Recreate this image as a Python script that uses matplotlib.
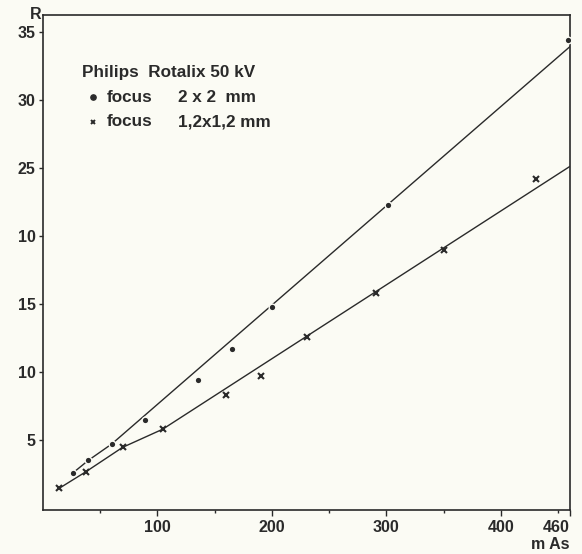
import matplotlib
matplotlib.use("Agg")
import matplotlib.pyplot as plt
import numpy as np

### Data

# focus 2 x 2 mm
mas_2x2 = [26.7, 39.8, 60.2, 89.6, 135.3, 165.5, 200.4, 301.1, 458.8]
r_2x2 = [2.6, 3.5, 4.7, 6.5, 9.4, 11.7, 14.8, 22.3, 34.4]
fit_2x2_x = [26.7, 39.8, 60.2, 460]
fit_2x2_y = [2.6, 3.5, 4.7, 33.9]

# focus 1,2 x 1,2 mm
mas_12 = [14.5, 37.8, 69.8, 104.7, 160.0, 190.3, 230.7, 290.6, 350.3, 430.3]
r_12 = [1.45, 2.67, 4.46, 5.79, 8.3, 9.73, 12.6, 15.8, 19.0, 24.2]
fit_12_x = [14.5, 37.8, 69.8, 104.7, 460]
fit_12_y = [1.45, 2.67, 4.46, 5.79, 25.1]

y_ticks = [5, 10, 15, 20, 25, 30, 35]
y_labels = ["5", "10", "15", "10", "25", "30", "35"]  # as printed
x_ticks = [100, 200, 300, 400, 460]
x_minor = [50, 150, 250, 350, 450]

### Style
bg = "#fbfbf4"
ink = "#2a2a2a"
font = "Liberation Sans"
plt.rcParams["font.family"] = [font, "DejaVu Sans"]
tick_fs = 11.5
leg_fs = 12.3

fig = plt.figure(figsize=(5.82, 5.54), dpi=100, facecolor=bg)
ax = fig.add_axes([0.0734, 0.0794, 0.9052, 0.8935], facecolor=bg)

# lines first, markers on top with a light edge so the line looks broken
ax.plot(fit_2x2_x, fit_2x2_y, color=ink, lw=1.0, zorder=2)
ax.plot(fit_12_x, fit_12_y, color=ink, lw=1.0, zorder=2)
ax.plot(mas_2x2, r_2x2, ls="none", marker="o", ms=4.8, mfc=ink, mec=bg, mew=1.0, zorder=3)
ax.plot(mas_12, r_12, ls="none", marker="x", ms=4.0, mec=ink, mew=1.5, zorder=3)

ax.set_xlim(0, 460)
ax.set_ylim(-0.15, 36.25)

for s in ax.spines.values():
    s.set_color(ink)
    s.set_linewidth(1.2)

ax.set_yticks(y_ticks)
ax.set_yticklabels(y_labels)
ax.set_xticks(x_ticks)
ax.set_xticklabels([str(v) for v in x_ticks])
ax.set_xticks(x_minor, minor=True)
ax.tick_params(axis="both", which="major", direction="out", color=ink, width=1.0,
               labelsize=tick_fs, labelcolor=ink)
ax.tick_params(axis="y", length=3, pad=2)
ax.tick_params(axis="x", length=4, pad=3.5)
ax.tick_params(axis="x", which="minor", direction="out", length=2, width=1.0, color=ink)
ax.tick_params(axis="y", which="minor", left=False)
for lab in ax.get_xticklabels() + ax.get_yticklabels():
    lab.set_fontweight("bold")
ax.get_xticklabels()[-1].set_horizontalalignment("right")

# axis names
ax.text(-0.002, 1.002, "R", transform=ax.transAxes, ha="right", va="center",
        fontsize=tick_fs, fontweight="bold", color=ink)
ax.text(1.0, -0.069, "m As", transform=ax.transAxes, ha="right", va="center",
        fontsize=tick_fs, fontweight="bold", color=ink)

# legend block
ax.text(0.074, 0.883, "Philips  Rotalix 50 kV", transform=ax.transAxes, ha="left",
        va="center", fontsize=leg_fs, fontweight="bold", color=ink)
ax.plot([0.095], [0.834], transform=ax.transAxes, marker="o", ms=3.8, color=ink, ls="none")
ax.plot([0.095], [0.784], transform=ax.transAxes, marker="x", ms=3.5, mew=1.4, color=ink, ls="none")
ax.text(0.1215, 0.834, "focus", transform=ax.transAxes, ha="left", va="center",
        fontsize=leg_fs, fontweight="bold", color=ink)
ax.text(0.1215, 0.784, "focus", transform=ax.transAxes, ha="left", va="center",
        fontsize=leg_fs, fontweight="bold", color=ink)
ax.text(0.256, 0.834, "2 x 2  mm", transform=ax.transAxes, ha="left", va="center",
        fontsize=leg_fs, fontweight="bold", color=ink)
ax.text(0.256, 0.784, "1,2x1,2 mm", transform=ax.transAxes, ha="left", va="center",
        fontsize=leg_fs, fontweight="bold", color=ink)

fig.savefig("out.png", dpi=100, facecolor=bg)
